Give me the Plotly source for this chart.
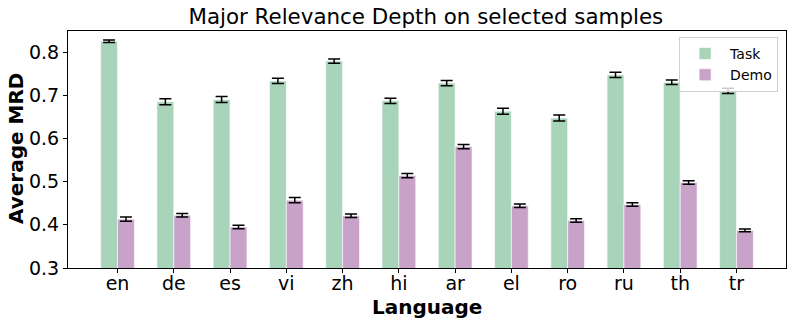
import plotly.graph_objects as go

languages = ["en", "de", "es", "vi", "zh", "hi", "ar", "el", "ro", "ru", "th", "tr"]
task_values = [0.825, 0.685, 0.690, 0.733, 0.779, 0.687, 0.728, 0.663, 0.647, 0.747, 0.730, 0.710]
task_errors = [0.003, 0.007, 0.007, 0.006, 0.005, 0.006, 0.006, 0.007, 0.007, 0.006, 0.005, 0.006]
demo_values = [0.413, 0.422, 0.395, 0.457, 0.421, 0.514, 0.581, 0.444, 0.410, 0.447, 0.498, 0.387]
demo_errors = [0.005, 0.004, 0.004, 0.006, 0.004, 0.005, 0.005, 0.004, 0.004, 0.004, 0.004, 0.003]

x_idx = list(range(len(languages)))
bar_w = 0.3
green = "#a8d5ba"
purple = "#c8a2c8"

fig = go.Figure()
fig.add_trace(go.Bar(
    x=[i - bar_w / 2 for i in x_idx], y=task_values, width=bar_w, name="Task",
    marker=dict(color=green, line=dict(color="rgba(255,255,255,0.6)", width=1)),
    error_y=dict(type="data", array=task_errors, color="black", thickness=1.5, width=6),
))
fig.add_trace(go.Bar(
    x=[i + bar_w / 2 for i in x_idx], y=demo_values, width=bar_w, name="Demo",
    marker=dict(color=purple, line=dict(color="rgba(255,255,255,0.6)", width=1)),
    error_y=dict(type="data", array=demo_errors, color="black", thickness=1.5, width=6),
))

fig.update_layout(
    width=793, height=325,
    margin=dict(l=68, r=7, t=31, b=57, autoexpand=False),
    paper_bgcolor="white", plot_bgcolor="white",
    font=dict(family="DejaVu Sans", color="black"),
    title=dict(text="Major Relevance Depth on selected samples", x=0.537, xanchor="center",
               y=0.95, yanchor="middle", font=dict(size=21.4, color="black"), automargin=False),
    barmode="overlay",
    showlegend=True,
    legend=dict(x=0.989, y=0.975, xanchor="right", yanchor="top", itemwidth=40,
                bgcolor="rgba(255,255,255,0.8)", bordercolor="#d0d0d0", borderwidth=1,
                font=dict(size=14)),
    annotations=[
        dict(text="<b>Language</b>", xref="paper", yref="paper", x=0.5, y=-0.163,
             xanchor="center", yanchor="middle", showarrow=False, font=dict(size=20)),
        dict(text="<b>Average MRD</b>", xref="paper", yref="paper", x=-0.0724, y=0.502,
             xanchor="center", yanchor="middle", textangle=-90, showarrow=False,
             font=dict(size=20)),
    ],
)
fig.update_xaxes(
    range=[-0.88, 11.88], tickmode="array", tickvals=x_idx, ticktext=languages,
    tickfont=dict(size=19), ticks="outside", ticklen=4, tickcolor="black",
    showline=True, linecolor="black", linewidth=1, mirror=True, showgrid=False,
    automargin=False, ticklabelstandoff=-6,
)
fig.update_yaxes(
    range=[0.3, 0.8486], tickvals=[0.3, 0.4, 0.5, 0.6, 0.7, 0.8],
    ticktext=["0.3", "0.4", "0.5", "0.6", "0.7", "0.8"],
    tickfont=dict(size=19), ticks="outside", ticklen=4, tickcolor="black",
    showline=True, linecolor="black", linewidth=1, mirror=True, showgrid=False, zeroline=False,
    automargin=False,
)

fig.write_html("out.html", config={"displayModeBar": False},
               post_script="document.body.style.margin='0';")
